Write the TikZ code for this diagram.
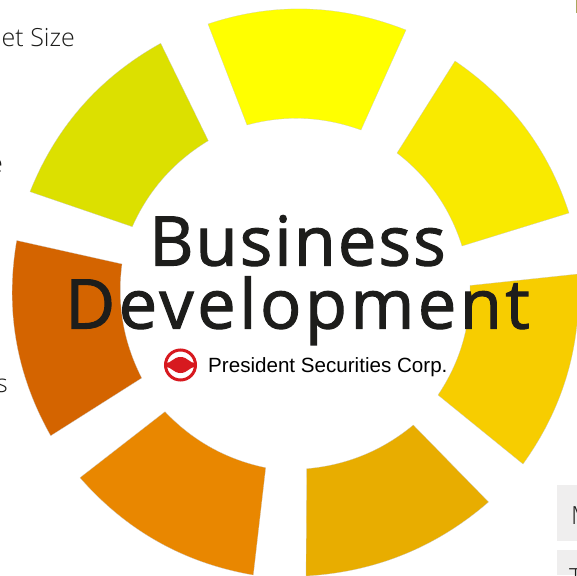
\documentclass[tikz,border=0pt]{standalone}
\usepackage{fontspec}
\setmainfont{Open Sans}
\newfontfamily\titlefontA[LetterSpace=3,FakeBold=1.6]{Open Sans}
\newfontfamily\titlefontB[LetterSpace=5.2,FakeBold=1.6]{Open Sans}
\newfontfamily\logofont{Liberation Sans}
\newfontfamily\sidefont{Open Sans Light}
\definecolor{segA}{HTML}{FFFF00}
\definecolor{segB}{HTML}{F9EA00}
\definecolor{segC}{HTML}{F7CD00}
\definecolor{segD}{HTML}{E8AD00}
\definecolor{segE}{HTML}{E98700}
\definecolor{segF}{HTML}{D46400}
\definecolor{segG}{HTML}{DCE000}
\definecolor{ink}{HTML}{1D1D1B}
\definecolor{logored}{HTML}{D7191F}
\definecolor{panel}{HTML}{EFEEEE}
\tikzset{
  seg/.style={draw=black!22,line width=0.2pt},
  titlea/.style={font=\titlefontA\fontsize{68.5}{68.5}\selectfont,text=ink,inner sep=0pt},
  titleb/.style={font=\titlefontB\fontsize{68.5}{68.5}\selectfont,text=ink,inner sep=0pt},
  sidetext/.style={font=\sidefont\fontsize{25}{25}\selectfont,text=ink,inner sep=0pt},
  logotext/.style={font=\logofont\fontsize{20.6}{20.6}\selectfont,text=black,inner sep=0pt},
}
\begin{document}
\begin{tikzpicture}[x=1pt,y=-1pt]
\useasboundingbox (0,0) rectangle (577,575);
\clip (0,0) rectangle (577,575);
\fill[white] (0,0) rectangle (577,575);
\path[seg,fill=segA] (208,24) .. controls (274,2) and (340,4) .. (406,30) -- (361,130) .. controls (323,116.3) and (285,114.7) .. (247,125) -- cycle;
\path[seg,fill=segB] (455,61) .. controls (510.3,98.7) and (548.3,149.3) .. (569,213) -- (462,246) .. controls (450,208.2) and (428.4,177.2) .. (397,153) -- cycle;
\path[seg,fill=segC] (470,285.5) -- (578,274) .. controls (582.2,343.8) and (563.8,407.2) .. (523,464) -- (438,395) .. controls (460.2,361.9) and (470.8,325.4) .. (470,285.5) -- cycle;
\path[seg,fill=segD] (413.3,425) -- (488.5,502) .. controls (436.7,547) and (375.8,572) .. (306,576) -- (306.7,468.7) .. controls (346.7,465.2) and (382.3,450.7) .. (413.3,425) -- cycle;
\path[seg,fill=segE] (165,411.7) -- (80,477.7) .. controls (126.3,530.6) and (184,563.1) .. (253.3,575) -- (265.7,467.7) .. controls (226.3,459.5) and (192.8,440.9) .. (165,411.7) -- cycle;
\path[seg,fill=segF] (16.7,240.5) -- (122,264) .. controls (116.8,304) and (123.3,342) .. (141.7,378) -- (50.7,435.7) .. controls (16.2,374.6) and (4.8,309.6) .. (16.7,240.5) -- cycle;
\path[seg,fill=segG] (160.7,43.3) -- (208.3,140.7) .. controls (174,161.5) and (148.6,190.1) .. (132.3,226.7) -- (30,191.7) .. controls (56,126.7) and (99.5,77.3) .. (160.7,43.3) -- cycle;
\fill[panel] (557,485) rectangle (577,541);
\fill[panel] (557,550) rectangle (577,575);
\fill[black!25!olive!60] (576,0) rectangle (577,13);
\node[sidetext,anchor=base east] (size) at (75,47) {et Size};
\node[sidetext,anchor=base east] (e) at (3,172) {e};
\node[sidetext,anchor=base east] (s) at (8,392) {s};
\node[sidetext,anchor=base west] (m) at (571,524) {M};
\node[sidetext,anchor=base west] (t) at (569,586) {T};
\node[titlea,anchor=base] (biz) at (297.5,265.5) {Business};
\node[titleb,anchor=base] (dev) at (297.5,328.5) {Development};
\node[logotext,anchor=base west] (corp) at (208,372) {President Securities Corp.};
\draw[logored,line width=3pt] (180.5,365) circle (15);
\fill[logored] (165,363.2) .. controls (172,363.2) and (173,357) .. (180.5,357) .. controls (188,357) and (189,363.2) .. (196,363.2) -- (196,366.8) .. controls (189,366.8) and (188,373) .. (180.5,373) .. controls (173,373) and (172,366.8) .. (165,366.8) -- cycle;
\end{tikzpicture}
\end{document}
